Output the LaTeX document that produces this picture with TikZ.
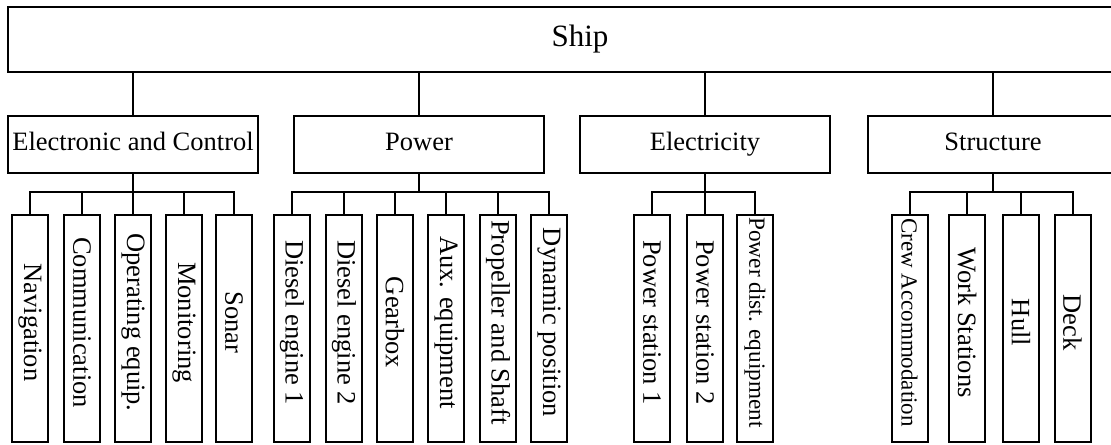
\documentclass[tikz,border=0pt]{standalone}
\usepackage{fontspec}
\setmainfont{Liberation Serif}
\usepackage{tikz}
\usetikzlibrary{positioning}

\tikzset{
  topbox/.style={draw,line width=1pt,minimum width=572pt,minimum height=32.5pt,inner sep=0pt,font=\fontsize{15.5}{18}\selectfont},
  groupbox/.style={draw,line width=1pt,minimum width=125pt,minimum height=28.5pt,inner sep=0pt,text height=9pt,text depth=3pt,font=\fontsize{13.25}{16}\selectfont},
  leafbox/.style={draw,line width=1pt,minimum width=18pt,minimum height=113.5pt,inner sep=0pt,font=\fontsize{13.25}{16}\selectfont},
  link/.style={line width=1pt}
}
\newcommand{\sidelab}[1]{\rotatebox{-90}{#1\hspace{6pt}}}

\begin{document}
\begin{tikzpicture}[x=0.5pt,y=-0.5pt]
  \useasboundingbox (0,0) rectangle (1111,444);
  \clip (0,0) rectangle (1111,444);
  \def\gy{144.5}
  \def\ly{328.5}
  \def\by{192}
  % top level
  \node[topbox] (ship) at (580,39.5) {Ship};
  % groups
  \node[groupbox] (ec) at (133,\gy) {Electronic and Control};
  \node[groupbox] (pow) at (419,\gy) {Power};
  \node[groupbox] (ele) at (705,\gy) {Electricity};
  \node[groupbox] (str) at (993,\gy) {Structure};
  \foreach \g in {ec,pow,ele,str} {
    \draw[link] (ship.south -| \g.north) -- (\g.north);
    \coordinate (\g bus) at (\g.south |- 0,\by);
    \draw[link] (\g.south) -- (\g bus);
  }
  % leaves
  \foreach \x/\lab [count=\i] in {30/Navigation,82/Communication,133/Operating equip.,184/Monitoring,234/Sonar} {
    \node[leafbox] (ec\i) at (\x,\ly) {\sidelab{\lab}};
    \draw[link] (ecbus) -| (ec\i.north);
  }
  \foreach \x/\lab [count=\i] in {292/Diesel engine 1,344/Diesel engine 2,395/Gearbox,446/Aux. equipment,498/Propeller and Shaft,549/Dynamic position} {
    \node[leafbox] (pow\i) at (\x,\ly) {\sidelab{\lab}};
    \draw[link] (powbus) -| (pow\i.north);
  }
  \foreach \x/\lab [count=\i] in {652/Power station 1,705/Power station 2,755/{\fontsize{11.6}{14}\selectfont Power dist. equipment}} {
    \node[leafbox] (ele\i) at (\x,\ly) {\sidelab{\lab}};
    \draw[link] (elebus) -| (ele\i.north);
  }
  \foreach \x/\lab [count=\i] in {909.5/{\fontsize{11.5}{14}\selectfont Crew Accommodation},967/Work Stations,1021/Hull,1072.5/Deck} {
    \node[leafbox] (str\i) at (\x,\ly) {\sidelab{\lab}};
    \draw[link] (strbus) -| (str\i.north);
  }
\end{tikzpicture}
\end{document}
